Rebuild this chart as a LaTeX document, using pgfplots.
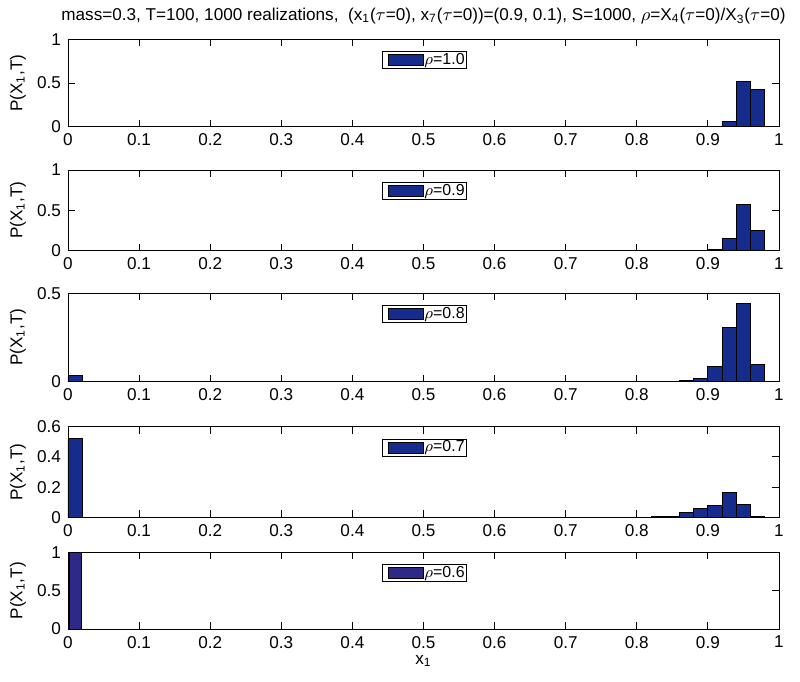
\documentclass[border=0pt]{standalone}
\usepackage{fontspec}
\setmainfont{Liberation Sans}
\usepackage{pgfplots}
\pgfplotsset{compat=1.18}

\definecolor{barblue}{RGB}{22,44,140}
\definecolor{barpurple}{RGB}{46,40,134}

\newcommand{\lbl}{\fontsize{8.6}{9.6}\selectfont}
\newcommand{\leg}{\fontsize{8}{9}\selectfont}

\pgfplotsset{
  histpanel/.style={
    scale only axis, width=355.5bp,
    xmin=0, xmax=1, ymin=0,
    xtick={0,0.1,0.2,0.3,0.4,0.5,0.6,0.7,0.8,0.9,1},
    tick align=inside, xtick pos=both, ytick pos=both,
    major tick length=3.5bp,
    axis line style={line width=0.5bp},
    every tick/.style={black, line width=0.5bp},
    tick label style={font=\lbl},
    /pgf/number format/assume math mode=true,
    ylabel={P(X\textsubscript{1},T)},
    ylabel style={at={(axis description cs:-0.0703,0.5)}, anchor=center, font=\lbl},
    legend style={draw=black, line width=0.5bp, inner xsep=0.6bp, inner ysep=0.3bp,
      nodes={inner sep=0.4bp, text depth=0.15em},
      font=\leg, at={(0.4416,1)}, anchor=north west, yshift=-6bp},
    legend cell align=left,
    every axis title/.style={at={(0.5,1)}, anchor=base, yshift=9.2bp, font=\lbl},
  },
  hbar/.style={ybar interval, fill=#1, draw=black, line width=0.5bp,
    legend image code/.code={\path (0bp,0bp);
      \draw[##1, line width=0.5bp] (2bp,-2.75bp) rectangle (19.5bp,2.75bp);}},
}

\begin{document}
\begin{tikzpicture}
\useasboundingbox (0,0) rectangle (400bp,-341bp);

% rho = 1.0
\begin{axis}[histpanel, at={(34bp,-19.65bp)}, anchor=north west, height=43.7bp,
  ymax=1, ytick={0,0.5,1},
  title={mass=0.3, T=100, 1000 realizations,\ \ (x\textsubscript{1}($\tau$=0), x\textsubscript{7}($\tau$=0))=(0.9, 0.1), S=1000, $\rho$=X\textsubscript{4}($\tau$=0)/X\textsubscript{3}($\tau$=0)}]
\addplot[hbar=barblue] coordinates {(0.92,0.06) (0.94,0.52) (0.96,0.42) (0.98,0)};
\legend{$\rho$=1.0}
\end{axis}

% rho = 0.9
\begin{axis}[histpanel, at={(34bp,-85bp)}, anchor=north west, height=40.25bp,
  ymax=1, ytick={0,0.5,1}]
\addplot[hbar=barblue] coordinates {(0.88,0.004) (0.90,0.012) (0.92,0.15) (0.94,0.575) (0.96,0.245) (0.98,0)};
\legend{$\rho$=0.9}
\end{axis}

% rho = 0.8
\begin{axis}[histpanel, at={(34bp,-146.65bp)}, anchor=north west, height=44.1bp,
  ymax=0.5, ytick={0,0.5}]
\addplot[hbar=barblue] coordinates {(0,0.032) (0.02,0) (0.84,0.002) (0.86,0.004) (0.88,0.018) (0.90,0.083) (0.92,0.305) (0.94,0.44) (0.96,0.097) (0.98,0)};
\legend{$\rho$=0.8}
\end{axis}

% rho = 0.7
\begin{axis}[histpanel, at={(34bp,-213.35bp)}, anchor=north west, height=45.3bp,
  ymax=0.6, ytick={0,0.2,0.4,0.6}]
\addplot[hbar=barblue] coordinates {(0,0.523) (0.02,0) (0.80,0.002) (0.82,0.003) (0.84,0.006) (0.86,0.033) (0.88,0.057) (0.90,0.075) (0.92,0.167) (0.94,0.088) (0.96,0.005) (0.98,0)};
\legend{$\rho$=0.7}
\end{axis}

% rho = 0.6
\begin{axis}[histpanel, at={(34bp,-276.15bp)}, anchor=north west, height=38.35bp,
  ymax=1, ytick={0,0.5,1},
  xlabel={x\textsubscript{1}},
  xlabel style={at={(0.5,0)}, anchor=base, yshift=-17.5bp, font=\lbl}]
\addplot[hbar=barpurple] coordinates {(0.002,1) (0.019,0)};
\legend{$\rho$=0.6}
\end{axis}
\end{tikzpicture}
\end{document}
